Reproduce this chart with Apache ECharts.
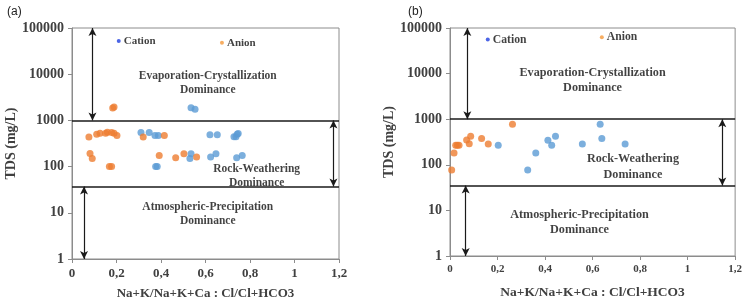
<!DOCTYPE html>
<html><head><meta charset="utf-8">
<script src="https://cdn.jsdelivr.net/npm/echarts@6/dist/echarts.min.js"></script>
<style>html,body{margin:0;padding:0;background:#fff}#c{width:745px;height:305px}</style>
</head><body><div id="c"></div>
<script>
// Panel (a) data: [ratio, TDS mg/L]
const cationA = [[0.535,1890],[0.553,1740],[0.310,547],[0.347,547],[0.373,472],[0.388,472],[0.620,487],[0.653,487],[0.728,441],[0.737,441],[0.742,504],[0.747,521],[0.376,100],[0.383,100],[0.535,189],[0.530,150],[0.623,161],[0.647,189],[0.740,155],[0.765,174]];
const anionA = [[0.183,1860],[0.189,1950],[0.076,435],[0.111,504],[0.126,529],[0.151,529],[0.159,555],[0.178,547],[0.189,529],[0.202,472],[0.320,435],[0.415,472],[0.081,192],[0.091,150],[0.168,100],[0.178,100],[0.392,174],[0.466,155],[0.503,189],[0.560,161]];
// Panel (b) data
const cationB = [[0.203,269],[0.327,77],[0.361,182],[0.412,344],[0.428,269],[0.444,424],[0.557,287],[0.632,772],[0.639,379],[0.737,287]];
const anionB = [[0.007,77],[0.017,182],[0.024,269],[0.031,269],[0.038,269],[0.070,349],[0.081,291],[0.087,424],[0.133,379],[0.161,287],[0.263,772]];
// boundaries
const upperBoundary = 1000;
const lowerBoundaryA = 37;
const lowerBoundaryB = 35;
const yTicks = [1,10,100,1000,10000,100000];
const xName = 'Na+K/Na+K+Ca : Cl/Cl+HCO3';
const yName = 'TDS (mg/L)';

const SERIF = '"Liberation Serif","DejaVu Serif",serif';
const BLUE = '#5b9bd5', ORANGE = '#ed7d31';

function xAxis(gi, fs, nfs){
  return {gridIndex:gi, type:'value', min:0, max:1.2, interval:0.2,
    axisLine:{show:true, lineStyle:{color:'#8c8c8c', width:1}},
    axisTick:{show:true, length:4, lineStyle:{color:'#8c8c8c'}},
    splitLine:{show:false},
    axisLabel:{fontFamily:SERIF, fontWeight:'bold', fontSize:fs, color:'#404040', margin:8,
      formatter:v=>String(+v.toFixed(1)).replace('.',',')},
    name:xName, nameLocation:'middle', nameGap:fs===13?28:30,
    nameTextStyle:{fontFamily:SERIF, fontWeight:'bold', fontSize:nfs, color:'#404040'}};
}
function yAxis(gi, gap){
  return {gridIndex:gi, type:'log', logBase:10, min:1, max:100000,
    axisLine:{show:true, lineStyle:{color:'#8c8c8c', width:1}},
    axisTick:{show:true, length:4, lineStyle:{color:'#8c8c8c'}},
    minorTick:{show:false}, splitLine:{show:false},
    axisLabel:{fontFamily:SERIF, fontWeight:'bold', fontSize:14, color:'#404040', margin:8,
      formatter:v=>yTicks.includes(Math.round(v))?String(Math.round(v)):''},
    name:yName, nameLocation:'middle', nameGap:gap, nameRotate:90,
    nameTextStyle:{fontFamily:SERIF, fontWeight:'bold', fontSize:14, color:'#404040'}};
}
function arrowLine(x, y1, y2){
  return [{coord:[x,y1]},{coord:[x,y2]}];
}
function panelSeries(gi, cat, an, lower, arrows, texts, legendPts, fs){
  const s = [];
  s.push({type:'scatter', xAxisIndex:gi, yAxisIndex:gi, data:cat, symbolSize:7, itemStyle:{color:BLUE}, z:5});
  s.push({type:'scatter', xAxisIndex:gi, yAxisIndex:gi, data:an, symbolSize:7, itemStyle:{color:ORANGE}, z:5});
  s.push({type:'scatter', xAxisIndex:gi, yAxisIndex:gi, data:[], silent:true,
    markLine:{silent:true, symbol:['none','none'], label:{show:false},
      lineStyle:{color:'#1a1a1a', width:1.6, type:'solid'},
      data:[{yAxis:upperBoundary},{yAxis:lower}]}});
  s.push({type:'scatter', xAxisIndex:gi, yAxisIndex:gi, data:[], silent:true,
    markLine:{silent:true, symbol:['arrow','arrow'], symbolSize:[6,8], label:{show:false},
      lineStyle:{color:'#1a1a1a', width:1.2, type:'solid'},
      data:[arrowLine(arrows[0],100000,upperBoundary), arrowLine(arrows[1],upperBoundary,lower), arrowLine(arrows[2],lower,1)]}});
  s.push({type:'scatter', xAxisIndex:gi, yAxisIndex:gi, symbolSize:0, silent:true, z:6,
    data:texts.map(t=>({value:[t[0],t[1]], name:t[2]})),
    label:{show:true, position:'inside', formatter:p=>p.name, fontFamily:SERIF, fontWeight:'bold',
      fontSize:fs, lineHeight:fs+3, color:'#111', align:'center', verticalAlign:'middle'}});
  s.push({type:'scatter', xAxisIndex:gi, yAxisIndex:gi, symbolSize:4, silent:true, z:6,
    data:legendPts.map(t=>({value:[t[0],t[1]], name:t[2], itemStyle:{color:t[3]}})),
    label:{show:true, position:'right', distance:3, formatter:p=>p.name, fontFamily:SERIF, fontWeight:'bold',
      fontSize:fs-0.5, color:'#111'}});
  return s;
}

const textsA = [[0.61,6500,'Evaporation-Crystallization\nDominance'],[0.83,62,'Rock-Weathering\nDominance'],[0.61,9.5,'Atmospheric-Precipitation\nDominance']];
const textsB = [[0.60,7200,'Evaporation-Crystallization\nDominance'],[0.77,90,'Rock-Weathering\nDominance'],[0.545,5.5,'Atmospheric-Precipitation\nDominance']];
const legA = [[0.21,52000,'Cation','#1f3fe0'],[0.674,48000,'Anion','#f59a3c']];
const legB = [[0.159,55700,'Cation','#1f3fe0'],[0.639,62300,'Anion','#f59a3c']];

const chart = echarts.init(document.getElementById('c'), null, {renderer:'canvas'});
chart.setOption({
  animation:false,
  backgroundColor:'#fff',
  title:[
    {text:'(a)', left:2, top:1, textStyle:{fontFamily:'"Liberation Sans",Arial,sans-serif', fontWeight:'normal', fontSize:12, color:'#222'}},
    {text:'(b)', left:403, top:1, textStyle:{fontFamily:'"Liberation Sans",Arial,sans-serif', fontWeight:'normal', fontSize:12, color:'#222'}}
  ],
  grid:[
    {left:72, top:28, width:267, height:235, show:true, borderColor:'#8c8c8c', borderWidth:1, backgroundColor:'transparent'},
    {left:450, top:28, width:286, height:236, show:true, borderColor:'#8c8c8c', borderWidth:1, backgroundColor:'transparent'}
  ],
  xAxis:[xAxis(0,13,13), xAxis(1,11,13.5)],
  yAxis:[yAxis(0,50), yAxis(1,52)],
  series:[
    ...panelSeries(0, cationA, anionA, lowerBoundaryA, [0.092,1.175,0.054], textsA, legA, 11.5),
    ...panelSeries(1, cationB, anionB, lowerBoundaryB, [0.073,1.146,0.066], textsB, legB, 12.2)
  ]
});
</script></body></html>
